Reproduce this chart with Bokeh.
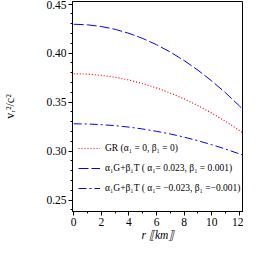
from bokeh.plotting import figure
from bokeh.embed import file_html
from bokeh.resources import INLINE
from bokeh.models import Legend, LegendItem, FixedTicker, CustomJSTickFormatter

# radius r [km]
r = [0, 1, 2, 3, 4, 5, 6, 7, 8, 9, 10, 11, 12, 12.3]
# GR (alpha1 = 0, beta1 = 0)
gr = [0.3790, 0.3786, 0.3774, 0.3754, 0.3726, 0.3690, 0.3645, 0.3593,
      0.3533, 0.3464, 0.3388, 0.3304, 0.3211, 0.3183]
# alpha1 = 0.023, beta1 = 0.001
pos = [0.4295, 0.4289, 0.4272, 0.4243, 0.4202, 0.4150, 0.4086, 0.4011,
       0.3924, 0.3826, 0.3716, 0.3595, 0.3462, 0.3420]
# alpha1 = -0.023, beta1 = -0.001
neg = [0.3279, 0.3277, 0.3270, 0.3260, 0.3245, 0.3226, 0.3202, 0.3175,
       0.3143, 0.3106, 0.3066, 0.3021, 0.2972, 0.2958]

x_ticks = [0, 2, 4, 6, 8, 10, 12]
y_ticks = [0.25, 0.30, 0.35, 0.40, 0.45]
labels = ["GR (α₁ = 0, β₁ = 0)",
          "α₁G+β₁T ( α₁= 0.023, β₁ = 0.001)",
          "α₁G+β₁T ( α₁= −0.023, β₁ =−0.001)"]

FONT = "Liberation Serif"

p = figure(width=243, height=243, output_backend="svg", toolbar_location=None,
           x_range=(-0.09, 12.3), y_range=(0.2384, 0.4527),
           min_border_left=64, min_border_right=0, min_border_top=1, min_border_bottom=0)
p.background_fill_color = "white"
p.border_fill_color = "white"
p.outline_line_color = "black"
p.outline_line_width = 1
p.grid.visible = False

l1 = p.line(r, gr, line_color="#ff0000", line_width=1.2, line_dash="1 2")
l2 = p.line(r, pos, line_color="#0000ff", line_width=1, line_dash="10 3")
l3 = p.line(r, neg, line_color="#0000ff", line_width=1, line_dash="8 3 2 3")

for ax in (p.xaxis[0], p.yaxis[0]):
    ax.axis_line_color = "black"
    ax.major_tick_line_color = "black"
    ax.minor_tick_line_color = "black"
    ax.major_tick_in = 0
    ax.minor_tick_in = 0
    ax.major_tick_out = 4
    ax.minor_tick_out = 2
    ax.major_label_text_font = FONT
    ax.major_label_text_font_size = "11.5px"
    ax.major_label_text_color = "black"
    ax.axis_label_text_font = FONT
    ax.axis_label_text_color = "black"

p.xaxis.ticker = FixedTicker(ticks=x_ticks, minor_ticks=list(range(0, 13)))
p.yaxis.ticker = FixedTicker(ticks=y_ticks,
                             minor_ticks=[round(0.24 + 0.01 * i, 2) for i in range(22)])
p.yaxis.formatter = CustomJSTickFormatter(code="return tick.toFixed(2);")

p.xaxis.major_label_standoff = 2
p.xaxis.axis_label = "r ⟦km⟧"
p.xaxis.axis_label_text_font_style = "italic"
p.xaxis.axis_label_text_font_size = "11.5px"
p.xaxis.axis_label_standoff = 0

p.yaxis.major_label_standoff = 2
p.yaxis.axis_label = "vᵣ²/c²"
p.yaxis.axis_label_text_font_style = "normal"
p.yaxis.axis_label_text_font_size = "12px"
p.yaxis.axis_label_standoff = 26

legend = Legend(items=[LegendItem(label=labels[0], renderers=[l1]),
                       LegendItem(label=labels[1], renderers=[l2]),
                       LegendItem(label=labels[2], renderers=[l3])],
                location=(6, 13), border_line_color=None,
                background_fill_alpha=0.0, padding=0, margin=0, spacing=0,
                label_height=20, glyph_height=20, glyph_width=22,
                label_standoff=5, label_text_font=FONT,
                label_text_font_size="9.5px", label_text_color="black")
p.add_layout(legend, "center")

open("out.html", "w").write(file_html(p, INLINE))
